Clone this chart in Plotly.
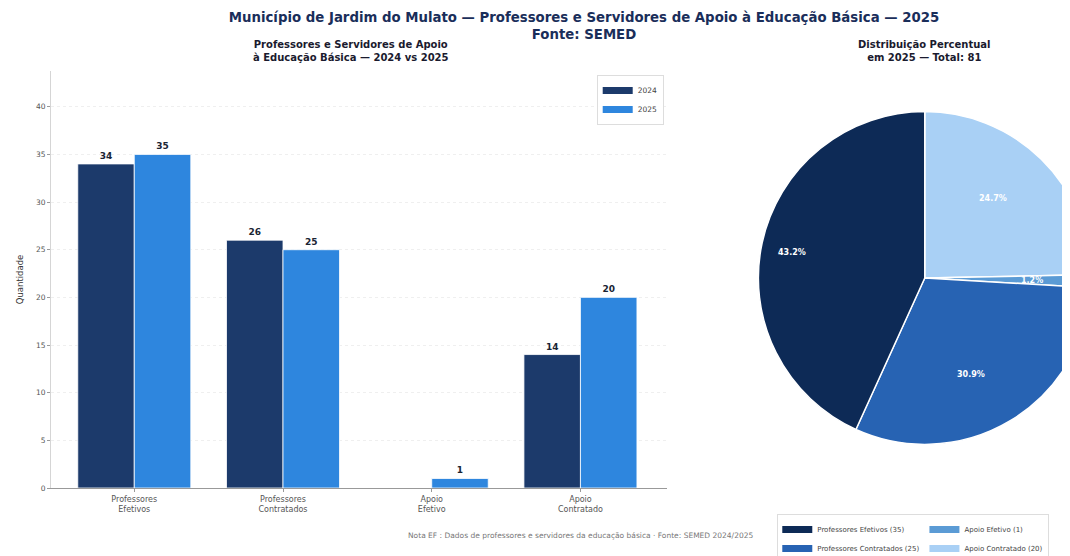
import math
import plotly.graph_objects as go

# dados (SEMED)
categorias = ['Professores<br>Efetivos', 'Professores<br>Contratados', 'Apoio<br>Efetivo', 'Apoio<br>Contratado']
nomes = ['Professores Efetivos', 'Professores Contratados', 'Apoio Efetivo', 'Apoio Contratado']
valores_2024 = [34, 26, 0, 14]
valores_2025 = [35, 25, 1, 20]
anos = ['2024', '2025']
cores_barras = ['#1c3a6b', '#2e86de']
cores_pizza = ['#0d2a56', '#2763b3', '#5b9bd5', '#a9d0f5']
total_2025 = sum(valores_2025)

W, H = 1152, 580
L, R, T, B = 39, 39, 63, 100
PW, PH = W - L - R, H - T - B   # área útil em px
fonte = 'DejaVu Sans'

def py(px_y):  # px (a partir do topo) -> coordenada paper
    return (H - B - px_y) / PH

fig = go.Figure()

# barras agrupadas
for ano, vals, cor in zip(anos, [valores_2024, valores_2025], cores_barras):
    fig.add_trace(go.Bar(
        x=categorias, y=vals, name=ano,
        marker=dict(color=cor, line=dict(color='white', width=0.8)),
        text=[str(v) if v else '' for v in vals],
        textposition='outside', cliponaxis=False,
        textfont=dict(family=fonte, size=9, color='#1a2433', weight='bold'),
        showlegend=False,
    ))
    # entrada de legenda (retângulo largo)
    fig.add_trace(go.Scatter(
        x=[None], y=[None], mode='lines', name=ano,
        line=dict(color=cor, width=7), hoverinfo='skip',
    ))

# pizza 2025 (horário com ordem invertida = anti-horário a partir das 12h)
pie_cx, pie_cy, pie_r = 0.8166, py(270), 167
fig.add_trace(go.Pie(
    labels=nomes[::-1], values=valores_2025[::-1],
    marker=dict(colors=cores_pizza[::-1], line=dict(color='white', width=1.5)),
    direction='clockwise', sort=False, rotation=0,
    textinfo='none',
    domain=dict(x=[pie_cx - pie_r / PW, pie_cx + pie_r / PW],
                y=[pie_cy - pie_r / PH, pie_cy + pie_r / PH]),
    showlegend=False,
))

# rótulos percentuais (a 0.72 do raio, no meio de cada fatia)
anots = []
acum = 0
for v in valores_2025:
    ang = math.radians(90 + (acum + v / 2) / total_2025 * 360)
    acum += v
    anots.append(dict(
        text='<b>%.1f%%</b>' % (100 * v / total_2025),
        x=pie_cx + 0.72 * pie_r * math.cos(ang) / PW,
        y=pie_cy + 0.72 * pie_r * math.sin(ang) / PH,
        xref='paper', yref='paper', showarrow=False,
        font=dict(size=8, color='white'),
    ))

# legenda da pizza em duas colunas
grupos = ['prof', 'prof', 'apoio', 'apoio']
for nome, v, cor, g in zip(nomes, valores_2025, cores_pizza, grupos):
    fig.add_trace(go.Scatter(
        x=[None], y=[None], mode='lines', name=f'{nome} ({v})',
        line=dict(color=cor, width=7), legend='legend2', legendgroup=g,
        hoverinfo='skip',
    ))

anots += [
    dict(text='<b>Professores e Servidores de Apoio<br>à Educação Básica — 2024 vs 2025</b>',
         x=(340 - L) / PW, y=py(29), xref='paper', yref='paper',
         xanchor='center', yanchor='top', showarrow=False,
         font=dict(size=10, color='#1a1a2e')),
    dict(text='<b>Distribuição Percentual<br>em 2025 — Total: %d</b>' % total_2025,
         x=pie_cx, y=py(29), xref='paper', yref='paper',
         xanchor='center', yanchor='top', showarrow=False,
         font=dict(size=10, color='#1a1a2e')),
    dict(text='Nota EF : Dados de professores e servidores da educação básica · Fonte: SEMED 2024/2025',
         x=(570 - L) / PW, y=py(527), xref='paper', yref='paper',
         xanchor='center', yanchor='middle', showarrow=False,
         font=dict(size=7.5, color='#777')),
]

fig.update_layout(
    width=W, height=H,
    margin=dict(l=L, r=R, t=T, b=B),
    paper_bgcolor='white', plot_bgcolor='white',
    font=dict(family=fonte, color='#444'),
    barmode='group', bargap=0.24, bargroupgap=0,
    title=dict(
        text='Município de Jardim do Mulato — Professores e Servidores de Apoio à Educação Básica — 2025<br>Fonte: SEMED',
        font=dict(family=fonte, size=13.3, color='#1a2e5a', weight='bold'),
        x=0.5, xanchor='center', xref='container',
        y=1 - 14 / H, yanchor='top', yref='container',
    ),
    xaxis=dict(
        domain=[0, (657 - L) / PW], range=[-0.56, 3.58],
        showline=True, linecolor='#999', ticks='outside', ticklen=3, tickcolor='#999',
        tickfont=dict(size=8, color='#555'), showgrid=False,
    ),
    yaxis=dict(
        range=[0, 43.75], dtick=5,
        showline=True, linecolor='#d5d5d5', ticks='outside', ticklen=3, tickcolor='#999',
        tickfont=dict(size=7.5, color='#555'),
        gridcolor='#efefef', griddash='dot', zeroline=False,
        title=dict(text='Quantidade', font=dict(size=8.5, color='#333'), standoff=10),
    ),
    legend=dict(
        x=(654 - L) / PW, xanchor='right', y=py(67), yanchor='top',
        font=dict(size=7.5, color='#444'),
        bgcolor='rgba(255,255,255,0.9)', bordercolor='#dddddd', borderwidth=1,
        itemwidth=30, tracegroupgap=0,
    ),
    legend2=dict(
        orientation='h', x=(768 - L) / PW, xanchor='left', y=py(506), yanchor='top',
        font=dict(size=7, color='#444'),
        bgcolor='white', bordercolor='#dddddd', borderwidth=1,
        itemwidth=30, tracegroupgap=0,
    ),
    annotations=anots,
)

fig.write_html('out.html')
